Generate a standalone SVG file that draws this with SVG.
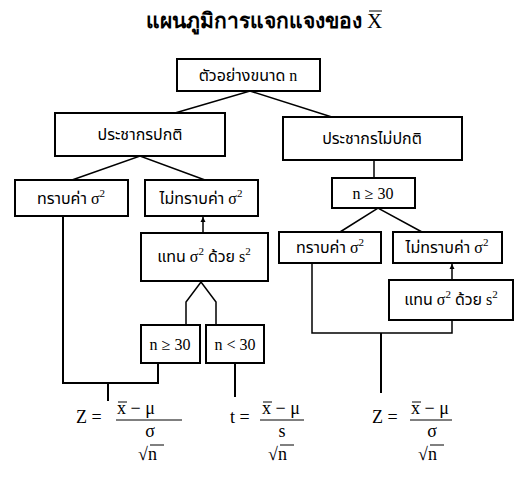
<svg xmlns="http://www.w3.org/2000/svg" width="532" height="485" viewBox="0 0 532 485">
<style>
.box{fill:#fff;stroke:#000;stroke-width:2}
.t{font-family:"Liberation Serif","Noto Sans Thai",serif;font-size:16px;fill:#000;text-anchor:middle}
.f{font-family:"Liberation Serif",serif;font-size:18px;fill:#000}
.ln{stroke:#000;stroke-width:1.5;fill:none}
.lb{stroke:#000;stroke-width:2;fill:none}
.bar{stroke:#000;stroke-width:1}
.sup{font-size:11px}
</style>
<defs>
<marker id="ah" markerWidth="6" markerHeight="6" refX="5" refY="3" orient="auto" markerUnits="userSpaceOnUse">
<path d="M0,0.5 L5,3 L0,5.5z" fill="#000"/>
</marker>
</defs>
<rect width="532" height="485" fill="#fff"/>
<g id="title">
<text x="264" y="28" font-family="Liberation Serif,serif" font-size="21" font-weight="bold" text-anchor="middle">แผนภูมิการแจกแจงของ <tspan font-weight="normal">X</tspan></text>
<line class="bar" x1="369" y1="11" x2="382" y2="11"/>
</g>
<g id="connectors">
<polyline class="ln" points="175,113 250,91 335,118"/>
<polyline class="ln" points="72,180 140,156 205,180"/>
<line class="ln" x1="203" y1="233" x2="203" y2="217" marker-end="url(#ah)"/>
<polyline class="ln" points="186,325 186,302 201,282 216,302 216,325"/>
<polyline class="lb" points="63,216 63,383 158,383 158,363"/>
<line class="lb" x1="108" y1="383" x2="108" y2="401"/>
<line class="lb" x1="235" y1="363" x2="235" y2="397"/>
<line class="ln" x1="374" y1="160" x2="374" y2="178"/>
<polyline class="ln" points="340,232 378,208 422,232"/>
<line class="ln" x1="452" y1="280" x2="452" y2="264" marker-end="url(#ah)"/>
<polyline class="ln" points="312,263 312,333 452,333 452,320"/>
<line class="lb" x1="381" y1="333" x2="381" y2="393"/>
</g>
<g id="n_sample"><rect class="box" x="177" y="59" width="143" height="32"/><text class="t" x="248" y="81">ตัวอย่างขนาด n</text></g>
<g id="n_normal"><rect class="box" x="55" y="113" width="170" height="43"/><text class="t" x="140" y="140">ประชากรปกติ</text></g>
<g id="n_nonnormal"><rect class="box" x="283" y="117" width="179" height="43"/><text class="t" x="372" y="144">ประชากรไม่ปกติ</text></g>
<g id="n_known_l"><rect class="box" x="15" y="180" width="113" height="36"/><text class="t" x="71" y="204">ทราบค่า σ<tspan class="sup" dy="-7">2</tspan></text></g>
<g id="n_unknown_l"><rect class="box" x="145" y="180" width="113" height="36"/><text class="t" x="201" y="204">ไม่ทราบค่า σ<tspan class="sup" dy="-7">2</tspan></text></g>
<g id="n_replace_l"><rect class="box" x="141" y="233" width="127" height="48"/><text class="t" x="204" y="262">แทน σ<tspan class="sup" dy="-7">2</tspan><tspan dy="7"> ด้วย s</tspan><tspan class="sup" dy="-7">2</tspan></text></g>
<g id="n_ge30_l"><rect class="box" x="141" y="325" width="59" height="38"/><text class="t" x="170" y="350">n ≥ 30</text></g>
<g id="n_lt30_l"><rect class="box" x="206" y="325" width="58" height="38"/><text class="t" x="235" y="350">n &lt; 30</text></g>
<g id="n_ge30_r"><rect class="box" x="332" y="178" width="83" height="30"/><text class="t" x="373" y="199">n ≥ 30</text></g>
<g id="n_known_r"><rect class="box" x="279" y="232" width="102" height="31"/><text class="t" x="330" y="253">ทราบค่า σ<tspan class="sup" dy="-7">2</tspan></text></g>
<g id="n_unknown_r"><rect class="box" x="393" y="232" width="109" height="31"/><text class="t" x="447" y="253">ไม่ทราบค่า σ<tspan class="sup" dy="-7">2</tspan></text></g>
<g id="n_replace_r"><rect class="box" x="389" y="280" width="124" height="40"/><text class="t" x="451" y="305">แทน σ<tspan class="sup" dy="-7">2</tspan><tspan dy="7"> ด้วย s</tspan><tspan class="sup" dy="-7">2</tspan></text></g>
<g id="formula_z1">
<text class="f" x="76" y="423">Z =</text>
<text class="f" x="117" y="414">x − μ</text>
<line class="bar" x1="118" y1="402" x2="127" y2="402"/>
<line class="bar" x1="116" y1="420" x2="182" y2="420"/>
<text class="f" x="150" y="437" text-anchor="middle">σ</text>
<text class="f" x="138" y="460">√n</text>
<line class="bar" x1="150" y1="445" x2="164" y2="445"/>
</g>
<g id="formula_t">
<text class="f" x="230" y="423">t =</text>
<text class="f" x="262" y="414">x − μ</text>
<line class="bar" x1="263" y1="402" x2="272" y2="402"/>
<line class="bar" x1="260" y1="420" x2="304" y2="420"/>
<text class="f" x="282" y="437" text-anchor="middle">s</text>
<text class="f" x="268" y="460">√n</text>
<line class="bar" x1="280" y1="445" x2="294" y2="445"/>
</g>
<g id="formula_z2">
<text class="f" x="372" y="423">Z =</text>
<text class="f" x="411" y="414">x − μ</text>
<line class="bar" x1="412" y1="402" x2="421" y2="402"/>
<line class="bar" x1="410" y1="420" x2="452" y2="420"/>
<text class="f" x="432" y="437" text-anchor="middle">σ</text>
<text class="f" x="418" y="460">√n</text>
<line class="bar" x1="430" y1="445" x2="444" y2="445"/>
</g>
</svg>
